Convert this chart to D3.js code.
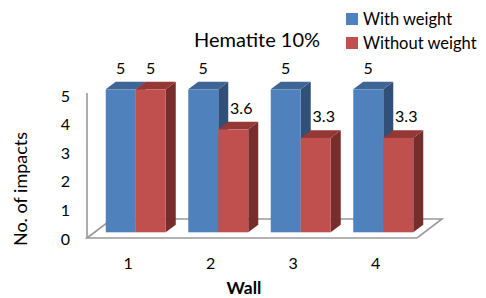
<!DOCTYPE html>
<html>
<head>
<meta charset="utf-8">
<script src="https://cdn.jsdelivr.net/npm/d3@7/dist/d3.min.js"></script>
<style>
  html, body { margin: 0; padding: 0; background: #fff; }
  svg { display: block; }
  text { font-family: Lato, "Open Sans", sans-serif; fill: #000; }
</style>
</head>
<body>
<svg id="chart" width="486" height="298"></svg>
<script>
const categories = ["1", "2", "3", "4"];
const seriesNames = ["With weight", "Without weight"];
const withWeight = [5, 5, 5, 5];
const withoutWeight = [5, 3.6, 3.3, 3.3];
const yTicks = [0, 1, 2, 3, 4, 5];
const chartTitle = "Hematite 10%";
const xTitle = "Wall";
const yTitle = "No. of impacts";

const colors = {
  "With weight": { front: "#4F81BD", top: "#3E6594", side: "#30507A" },
  "Without weight": { front: "#C0504D", top: "#943835", side: "#772D2B" }
};

const svg = d3.select("#chart");

// floor geometry (front plane) and depth
const floorLeft = 87, floorRight = 417, floorY = 238;
const depthX = 25, depthY = -19;

const x = d3.scaleBand().domain(categories).range([floorLeft, floorRight]);
const y = d3.scaleLinear().domain([0, 5]).range([floorY, 95]);
const inner = d3.scaleBand().domain(seriesNames).range([-30, 30]);

// bars sit at 0.3 of floor depth, bar depth = 0.4 of floor depth
const barOffsetFrac = 0.3, barDepthFrac = 0.4;
const offX = depthX * barOffsetFrac, offY = depthY * barOffsetFrac;
const bdx = depthX * barDepthFrac, bdy = depthY * barDepthFrac;

// floor
const fl = [
  [floorLeft, floorY],
  [floorLeft + depthX, floorY + depthY],
  [floorRight + depthX, floorY + depthY],
  [floorRight, floorY]
];
svg.append("path")
  .attr("d", d3.line()(fl) + "Z")
  .attr("fill", "none")
  .attr("stroke", "#9A9A9A")
  .attr("stroke-width", 1.6);

// y axis line
svg.append("line")
  .attr("x1", floorLeft).attr("x2", floorLeft)
  .attr("y1", y(5) - 2).attr("y2", floorY)
  .attr("stroke", "#9A9A9A").attr("stroke-width", 1.6);

// y tick labels
svg.append("g").selectAll("text").data(yTicks).join("text")
  .attr("x", 70).attr("y", d => y(d))
  .attr("text-anchor", "end").attr("dominant-baseline", "central")
  .attr("font-size", 16)
  .text(d => d);

// bars
const rows = [];
categories.forEach((c, i) => {
  rows.push({ cat: c, series: "With weight", value: withWeight[i] });
  rows.push({ cat: c, series: "Without weight", value: withoutWeight[i] });
});

const barsG = svg.append("g");
rows.forEach(r => {
  const cx = x(r.cat) + x.bandwidth() / 2 + offX;
  const x0 = cx + inner(r.series);
  const x1 = x0 + inner.bandwidth();
  const yb = y(0) + offY;
  const yt = y(r.value) + offY;
  const col = colors[r.series];
  const g = barsG.append("g");
  g.append("path")
    .attr("d", d3.line()([[x1, yt], [x1 + bdx, yt + bdy], [x1 + bdx, yb + bdy], [x1, yb]]) + "Z")
    .attr("fill", col.side);
  g.append("path")
    .attr("d", d3.line()([[x0, yt], [x0 + bdx, yt + bdy], [x1 + bdx, yt + bdy], [x1, yt]]) + "Z")
    .attr("fill", col.top);
  g.append("rect")
    .attr("x", x0).attr("y", yt)
    .attr("width", x1 - x0).attr("height", yb - yt)
    .attr("fill", col.front);
  const shift = r.value < 5 ? 8 : 0;
  g.append("text")
    .attr("x", (x0 + x1) / 2 + shift)
    .attr("y", yt - 22)
    .attr("text-anchor", "middle").attr("dominant-baseline", "central")
    .attr("font-size", 16)
    .text(r.value);
});

// category labels
svg.append("g").selectAll("text").data(categories).join("text")
  .attr("x", d => x(d) + x.bandwidth() / 2)
  .attr("y", 262.5)
  .attr("text-anchor", "middle").attr("dominant-baseline", "central")
  .attr("font-size", 16)
  .text(d => d);

// titles
svg.append("text")
  .attr("x", 257).attr("y", 39)
  .attr("text-anchor", "middle").attr("dominant-baseline", "central")
  .attr("font-size", 20)
  .text(chartTitle);

svg.append("text")
  .attr("x", 244).attr("y", 287)
  .attr("text-anchor", "middle").attr("dominant-baseline", "central")
  .attr("font-size", 17.5).attr("font-weight", "bold")
  .text(xTitle);

svg.append("text")
  .attr("transform", "translate(20,189) rotate(-90)")
  .attr("text-anchor", "middle").attr("dominant-baseline", "central")
  .attr("font-size", 18)
  .text(yTitle);

// legend
const leg = svg.append("g").selectAll("g").data(seriesNames).join("g")
  .attr("transform", (d, i) => `translate(346, ${13 + i * 24})`);
leg.append("rect").attr("width", 12).attr("height", 12)
  .attr("fill", d => colors[d].front);
leg.append("text").attr("x", 17).attr("y", 6)
  .attr("dominant-baseline", "central")
  .attr("font-size", 16.5)
  .text(d => d);
</script>
</body>
</html>
